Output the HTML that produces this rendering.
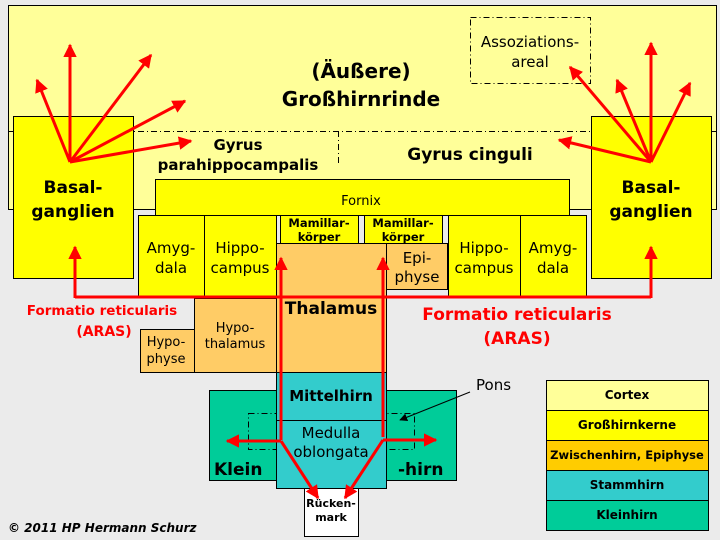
<!DOCTYPE html>
<html><head><meta charset="utf-8"><style>
body{margin:0;background:#ebebeb}
svg{display:block}
text{font-family:"DejaVu Sans","Liberation Sans",sans-serif;fill:#000}
</style></head><body>
<svg width="720" height="540" xmlns="http://www.w3.org/2000/svg">
<defs>
<marker id="a" viewBox="0 0 10 10" refX="9" refY="5" markerWidth="4.5" markerHeight="4.5" orient="auto" markerUnits="strokeWidth"><path d="M0,0L10,5L0,10z" fill="#f00"/></marker>
<marker id="b" viewBox="0 0 10 10" refX="9" refY="5" markerWidth="8" markerHeight="8" orient="auto" markerUnits="strokeWidth"><path d="M0,0L10,5L0,10z" fill="#000"/></marker>
</defs>
<rect width="720" height="540" fill="#ebebeb"/>
<g stroke="#000" stroke-width="1">
<rect x="8.5" y="5.5" width="708" height="204" fill="#ffff99"/>
<rect x="470.5" y="17.5" width="120" height="66" fill="none" stroke-dasharray="6,3,1,3"/>
<line x1="8" y1="131.5" x2="716" y2="131.5" stroke-dasharray="6,3,1,3"/>
<line x1="338.5" y1="131" x2="338.5" y2="165" stroke-dasharray="6,3,1,3"/>
<rect x="13.5" y="116.5" width="120" height="162" fill="#ffff00"/>
<rect x="591.5" y="116.5" width="120" height="162" fill="#ffff00"/>
<rect x="155.5" y="179.5" width="414" height="36" fill="#ffff00"/>
<rect x="138.5" y="215.5" width="66" height="82" fill="#ffff00"/>
<rect x="204.5" y="215.5" width="72" height="82" fill="#ffff00"/>
<rect x="280.5" y="215.5" width="78" height="28" fill="#ffff00"/>
<rect x="364.5" y="215.5" width="78" height="28" fill="#ffff00"/>
<rect x="448.5" y="215.5" width="72" height="82" fill="#ffff00"/>
<rect x="520.5" y="215.5" width="66" height="82" fill="#ffff00"/>
<rect x="276.5" y="243.5" width="110" height="129" fill="#ffcc66"/>
<rect x="386.5" y="243.5" width="61" height="46" fill="#ffcc66"/>
<rect x="194.5" y="298.5" width="82" height="74" fill="#ffcc66"/>
<rect x="140.5" y="329.5" width="54" height="43" fill="#ffcc66"/>
<rect x="209.5" y="390.5" width="67" height="90" fill="#00cc99"/>
<rect x="386.5" y="390.5" width="70" height="90" fill="#00cc99"/>
<rect x="248.5" y="413.5" width="166" height="36" fill="none" stroke-dasharray="6,3,1,3"/>
<rect x="276.5" y="372.5" width="110" height="48" fill="#33cccc"/>
<rect x="276.5" y="420.5" width="110" height="68" fill="#33cccc"/>
<rect x="304.5" y="488.5" width="54" height="48" fill="#fff"/>
<rect x="546.5" y="380.5" width="162" height="30" fill="#ffff99"/>
<rect x="546.5" y="410.5" width="162" height="30" fill="#ffff00"/>
<rect x="546.5" y="440.5" width="162" height="30" fill="#ffcc00"/>
<rect x="546.5" y="470.5" width="162" height="30" fill="#33cccc"/>
<rect x="546.5" y="500.5" width="162" height="30" fill="#00cc99"/>
</g>
<line x1="470" y1="392" x2="400" y2="420" stroke="#000" marker-end="url(#b)"/>
<g stroke="#f00" stroke-width="3" fill="none">
<line x1="70" y1="162" x2="70" y2="45" marker-end="url(#a)"/>
<line x1="70" y1="162" x2="37" y2="80" marker-end="url(#a)"/>
<line x1="70" y1="162" x2="151" y2="55" marker-end="url(#a)"/>
<line x1="70" y1="162" x2="185" y2="101" marker-end="url(#a)"/>
<line x1="70" y1="162" x2="191" y2="141" marker-end="url(#a)"/>
<line x1="651" y1="162" x2="651" y2="43" marker-end="url(#a)"/>
<line x1="651" y1="162" x2="617" y2="80" marker-end="url(#a)"/>
<line x1="651" y1="162" x2="690" y2="83" marker-end="url(#a)"/>
<line x1="651" y1="162" x2="570" y2="67" marker-end="url(#a)"/>
<line x1="651" y1="162" x2="559" y2="140" marker-end="url(#a)"/>
<polyline points="75,297 651,297"/>
<line x1="75" y1="298" x2="75" y2="247" marker-end="url(#a)"/>
<line x1="651" y1="298" x2="651" y2="247" marker-end="url(#a)"/>
<line x1="281" y1="440" x2="281" y2="258" marker-end="url(#a)"/>
<line x1="383" y1="437" x2="383" y2="258" marker-end="url(#a)"/>
<line x1="281" y1="441" x2="227" y2="441" marker-end="url(#a)"/>
<line x1="383" y1="440" x2="436" y2="440" marker-end="url(#a)"/>
<line x1="281" y1="441" x2="318" y2="498" marker-end="url(#a)"/>
<line x1="383" y1="440" x2="345" y2="498" marker-end="url(#a)"/>
</g>
<g text-anchor="middle">
<text x="361" y="78" font-size="20" font-weight="bold">(Äußere)</text>
<text x="361" y="106" font-size="20" font-weight="bold">Großhirnrinde</text>
<text x="530" y="47" font-size="15">Assoziations-</text>
<text x="530" y="67" font-size="15">areal</text>
<text x="238" y="150" font-size="15" font-weight="bold">Gyrus</text>
<text x="238" y="170" font-size="15" font-weight="bold">parahippocampalis</text>
<text x="470" y="160" font-size="17" font-weight="bold">Gyrus cinguli</text>
<text x="73" y="193" font-size="17" font-weight="bold">Basal-</text>
<text x="73" y="217" font-size="17" font-weight="bold">ganglien</text>
<text x="651" y="193" font-size="17" font-weight="bold">Basal-</text>
<text x="651" y="217" font-size="17" font-weight="bold">ganglien</text>
<text x="361" y="205" font-size="13">Fornix</text>
<text x="171" y="253" font-size="15">Amyg-</text>
<text x="171" y="273" font-size="15">dala</text>
<text x="240" y="253" font-size="15">Hippo-</text>
<text x="240" y="273" font-size="15">campus</text>
<text x="319" y="227" font-size="11.5" font-weight="bold">Mamillar-</text>
<text x="319" y="241" font-size="11.5" font-weight="bold">körper</text>
<text x="403" y="227" font-size="11.5" font-weight="bold">Mamillar-</text>
<text x="403" y="241" font-size="11.5" font-weight="bold">körper</text>
<text x="484" y="253" font-size="15">Hippo-</text>
<text x="484" y="273" font-size="15">campus</text>
<text x="553" y="253" font-size="15">Amyg-</text>
<text x="553" y="273" font-size="15">dala</text>
<text x="417" y="263" font-size="15">Epi-</text>
<text x="417" y="282" font-size="15">physe</text>
<text x="331" y="314" font-size="17" font-weight="bold">Thalamus</text>
<text x="235" y="332" font-size="13">Hypo-</text>
<text x="235" y="348" font-size="13">thalamus</text>
<text x="166" y="346" font-size="13">Hypo-</text>
<text x="166" y="363" font-size="13">physe</text>
<text x="331" y="401" font-size="15" font-weight="bold">Mittelhirn</text>
<text x="331" y="438" font-size="15">Medulla</text>
<text x="331" y="457" font-size="15">oblongata</text>
<text x="331" y="507" font-size="11" font-weight="bold">Rücken-</text>
<text x="331" y="521" font-size="11" font-weight="bold">mark</text>
<text x="102" y="315" font-size="13.5" font-weight="bold" style="fill:#f00">Formatio reticularis</text>
<text x="104" y="336" font-size="14" font-weight="bold" style="fill:#f00">(ARAS)</text>
<text x="517" y="320" font-size="17" font-weight="bold" style="fill:#f00">Formatio reticularis</text>
<text x="517" y="344" font-size="17" font-weight="bold" style="fill:#f00">(ARAS)</text>
<text x="627" y="399" font-size="12" font-weight="bold">Cortex</text>
<text x="627" y="429" font-size="12" font-weight="bold">Großhirnkerne</text>
<text x="627" y="459" font-size="11.5" font-weight="bold">Zwischenhirn, Epiphyse</text>
<text x="627" y="489" font-size="12" font-weight="bold">Stammhirn</text>
<text x="627" y="519" font-size="12" font-weight="bold">Kleinhirn</text>
</g>
<text x="214" y="475" font-size="17" font-weight="bold">Klein</text>
<text x="398" y="475" font-size="17" font-weight="bold">-hirn</text>
<text x="476" y="390" font-size="15">Pons</text>
<text x="8" y="532" font-size="12" font-style="italic" font-weight="bold">© 2011 HP Hermann Schurz</text>
</svg>
</body></html>
